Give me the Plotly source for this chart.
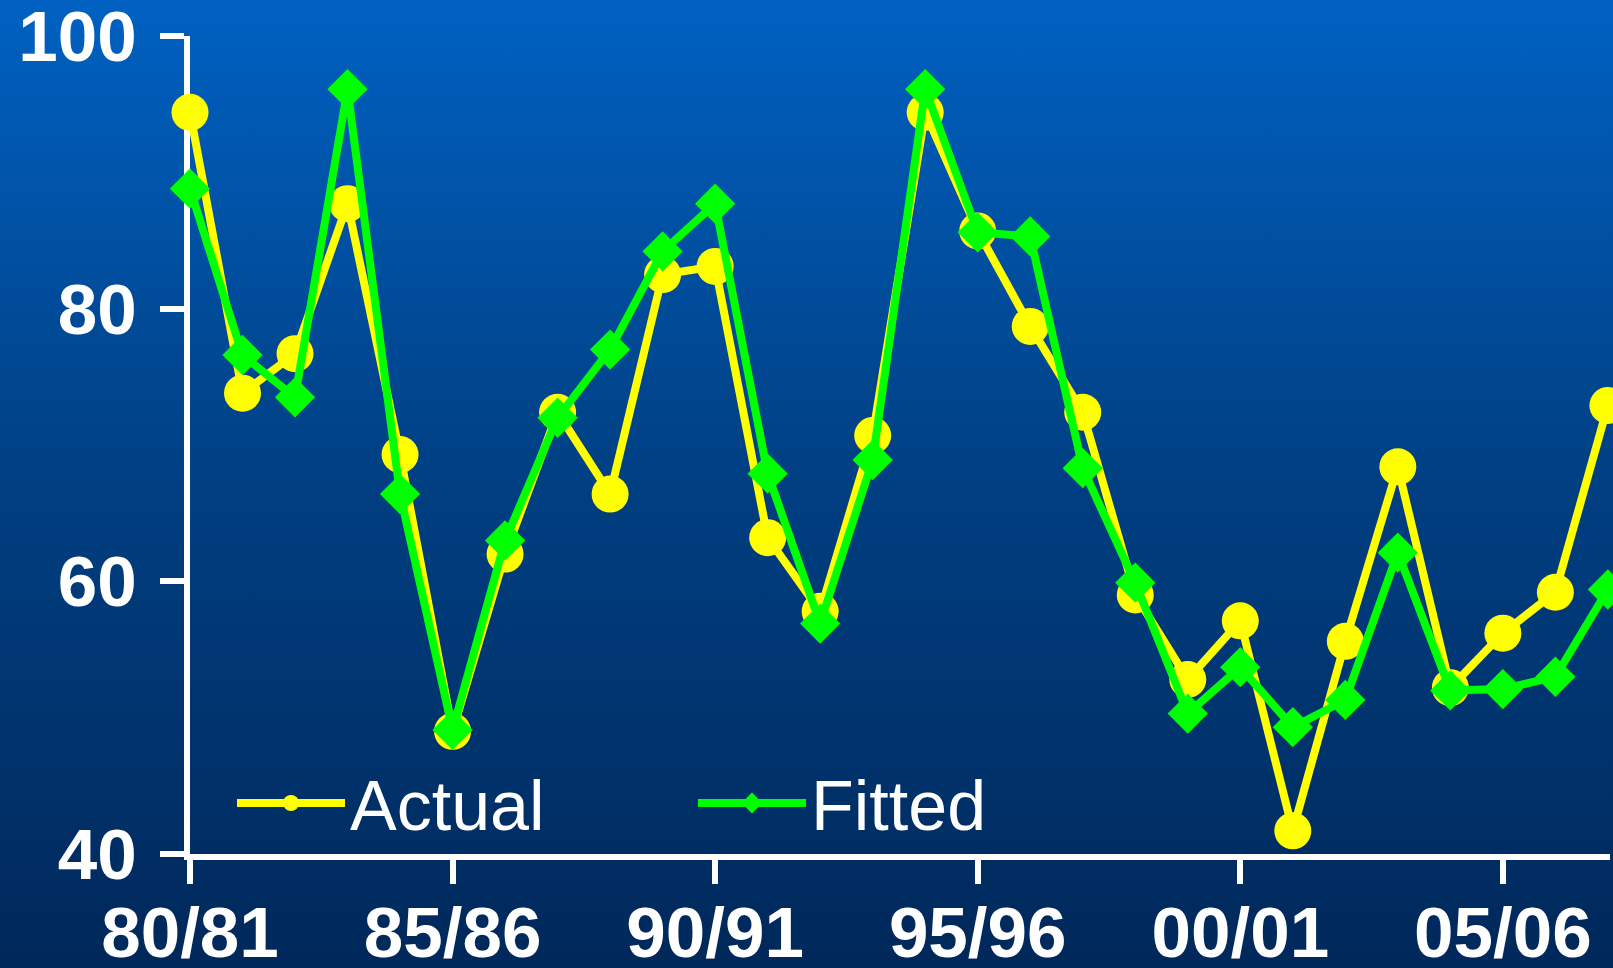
import base64
import plotly.graph_objects as go

seasons = ["80/81", "81/82", "82/83", "83/84", "84/85", "85/86", "86/87", "87/88",
           "88/89", "89/90", "90/91", "91/92", "92/93", "93/94", "94/95", "95/96",
           "96/97", "97/98", "98/99", "99/00", "00/01", "01/02", "02/03", "03/04",
           "04/05", "05/06", "06/07", "07/08"]
actual = [94.4, 73.8, 76.7, 87.7, 69.3, 49.0, 62.0, 72.4, 66.4, 82.5, 83.1, 63.2,
          57.8, 70.7, 94.4, 85.7, 78.7, 72.4, 59.0, 52.8, 57.1, 41.7, 55.6, 68.4,
          52.2, 56.2, 59.2, 72.9]
fitted = [88.8, 76.6, 73.5, 96.1, 66.4, 49.1, 63.0, 72.0, 77.0, 84.2, 87.7, 67.9,
          56.9, 68.9, 96.1, 85.6, 85.3, 68.3, 59.9, 50.3, 53.7, 49.3, 51.3, 62.1,
          52.0, 52.1, 53.0, 59.4]
x_tick_labels = ["80/81", "85/86", "90/91", "95/96", "00/01", "05/06"]
y_ticks = [40, 60, 80, 100]

W, H = 1613, 968
svg = (f'<svg xmlns="http://www.w3.org/2000/svg" width="{W}" height="{H}" '
       f'viewBox="0 0 {W} {H}" preserveAspectRatio="none"><defs>'
       '<linearGradient id="g" x1="0" y1="0" x2="0" y2="1">'
       '<stop offset="0" stop-color="#0061C2"/>'
       '<stop offset="0.5" stop-color="#003F82"/>'
       '<stop offset="1" stop-color="#00285A"/>'
       '</linearGradient></defs>'
       f'<rect x="0" y="0" width="{W}" height="{H}" fill="url(#g)"/></svg>')
bg_src = "data:image/svg+xml;base64," + base64.b64encode(svg.encode()).decode()

fig = go.Figure()
fig.add_trace(go.Scatter(
    x=seasons, y=actual, name="Actual", mode="lines+markers",
    line=dict(color="#FFFF00", width=8),
    marker=dict(symbol="circle", size=37, color="#FFFF00"),
    cliponaxis=False,
))
fig.add_trace(go.Scatter(
    x=seasons, y=fitted, name="Fitted", mode="lines+markers",
    line=dict(color="#00FF00", width=8),
    marker=dict(symbol="diamond", size=31, color="#00FF00"),
    cliponaxis=False,
))

tick_font = dict(family="Arial, Liberation Sans, sans-serif", size=71,
                 color="white", weight="bold")

fig.update_layout(
    width=W, height=H,
    margin=dict(l=0, r=0, t=0, b=0, pad=0, autoexpand=False),
    paper_bgcolor="#003F82",
    plot_bgcolor="rgba(0,0,0,0)",
    images=[dict(source=bg_src, xref="paper", yref="paper", x=0, y=1,
                 sizex=1, sizey=1, xanchor="left", yanchor="top",
                 sizing="stretch", layer="below")],
    xaxis=dict(
        domain=[190 / W, 1610 / W],
        automargin=False,
        type="category",
        range=[0, 27.04],
        tickmode="array", tickvals=x_tick_labels, ticktext=x_tick_labels,
        showgrid=False, zeroline=False,
        showline=True, linecolor="white", linewidth=6,
        ticks="outside", ticklen=24, tickwidth=6, tickcolor="white",
        tickfont=tick_font, ticklabelstandoff=-12, ticklabeloverflow="allow",
        layer="below traces",
    ),
    yaxis=dict(
        domain=[1 - 854 / H, 1 - 36 / H],
        automargin=False,
        range=[40, 100],
        tickmode="array", tickvals=y_ticks,
        showgrid=False, zeroline=False,
        showline=True, linecolor="white", linewidth=6,
        ticks="outside", ticklen=24, tickwidth=6, tickcolor="white",
        tickfont=tick_font, ticklabelstandoff=9, ticklabeloverflow="allow",
        layer="below traces",
    ),
    showlegend=True,
    legend=dict(
        orientation="h",
        x=232 / W, y=1 - 803 / H, xanchor="left", yanchor="middle",
        bgcolor="rgba(0,0,0,0)",
        font=dict(family="Arial, Liberation Sans, sans-serif", size=70, color="white"),
        itemwidth=108,
        entrywidth=338, entrywidthmode="pixels",
    ),
)

fig.write_html(
    "out.html",
    config={"displayModeBar": False},
    post_script="document.body.style.margin='0';document.body.style.overflow='hidden';",
)
